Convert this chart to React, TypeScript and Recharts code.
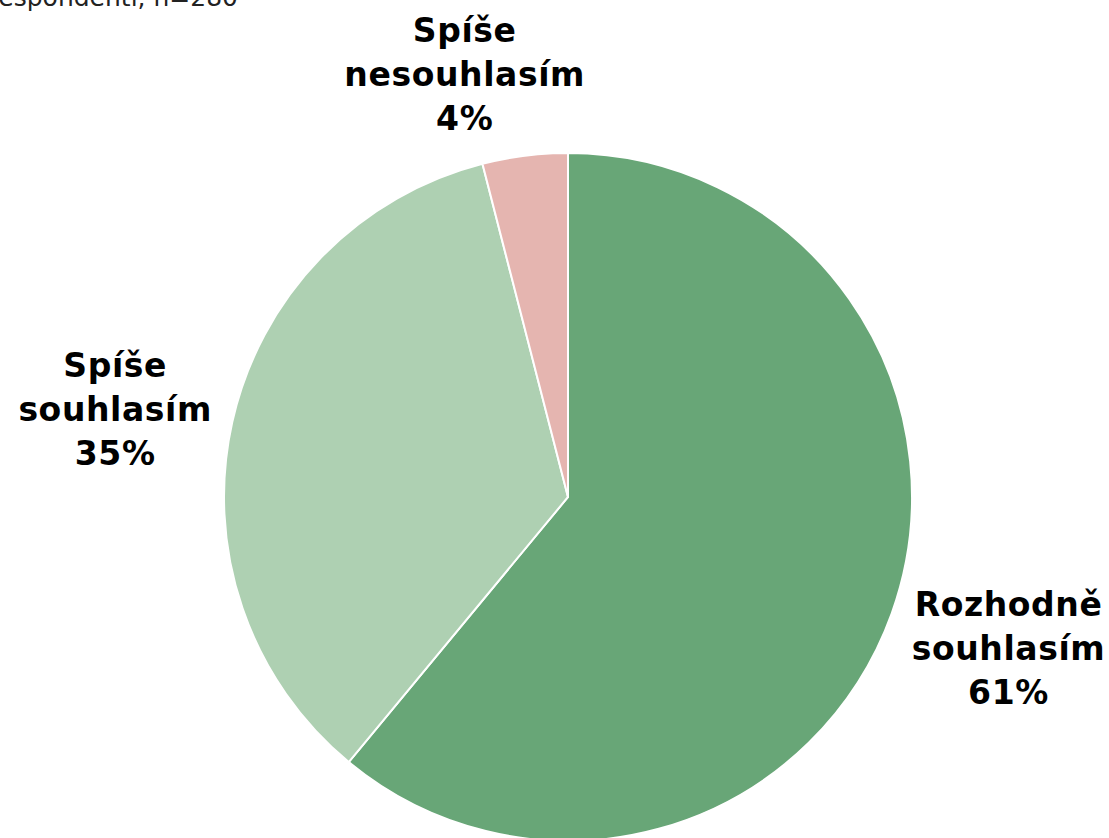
import { PieChart, Pie, Cell } from 'recharts'

const categories = ['Rozhodně souhlasím', 'Spíše souhlasím', 'Spíše nesouhlasím']
const shares = [61, 35, 4]
const labelLines = [['Rozhodně', 'souhlasím'], ['Spíše', 'souhlasím'], ['Spíše', 'nesouhlasím']]
const note = 'Respondenti, n=280'

const colors = ['#68A677', '#AED0B2', '#E5B5B0']
// small nudges so labels sit where the original layout put them
const nudges: [number, number][] = [[3, -6], [1, 14], [-45, 39]]

const data = categories.map((name, i) => ({ name, value: shares[i] }))

const RAD = Math.PI / 180

function renderLabel(props: any) {
  const { cx, cy, midAngle, outerRadius, index, value } = props
  const r = outerRadius + 121
  const x = cx + r * Math.cos(-midAngle * RAD) + nudges[index][0]
  const y = cy + r * Math.sin(-midAngle * RAD) + nudges[index][1]
  const lines = [...labelLines[index], `${value}%`]
  const lh = 44
  return (
    <text
      x={x}
      y={y}
      textAnchor="middle"
      fill="#000"
      fontFamily="DejaVu Sans, Verdana, sans-serif"
      fontWeight="bold"
      fontSize={33}
      letterSpacing={0.6}
    >
      {lines.map((t, i) => (
        <tspan key={i} x={x} y={y + (i - 1) * lh} dominantBaseline="central">{t}</tspan>
      ))}
    </text>
  )
}

export default function App() {
  return (
    <div style={{ position: 'absolute', left: 0, top: 0, width: 1109, height: 838, background: '#fff' }}>
      <PieChart width={1109} height={838} margin={{ top: 0, right: 0, bottom: 0, left: 0 }}>
        <text x={238} y={6} textAnchor="end" fontFamily="DejaVu Sans, Verdana, sans-serif" fontSize={25} fill="#222">
          {note}
        </text>
        <Pie
          data={data}
          dataKey="value"
          nameKey="name"
          cx={568}
          cy={497}
          outerRadius={344}
          startAngle={90}
          endAngle={-270}
          stroke="#fff"
          strokeWidth={2}
          label={renderLabel}
          labelLine={false}
          isAnimationActive={false}
        >
          {data.map((d, i) => (
            <Cell key={d.name} fill={colors[i]} />
          ))}
        </Pie>
      </PieChart>
    </div>
  )
}
